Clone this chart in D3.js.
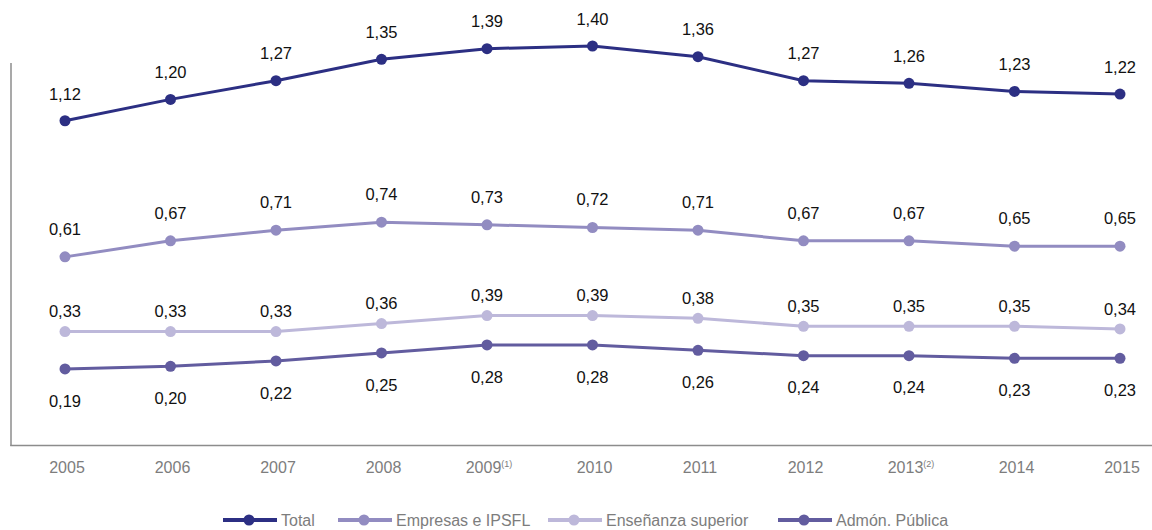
<!DOCTYPE html>
<html>
<head>
<meta charset="utf-8">
<script src="https://cdn.jsdelivr.net/npm/d3@7"></script>
<style>
  html, body { margin: 0; padding: 0; background: #fff; }
  svg { display: block; font-family: "Liberation Sans", Arial, Helvetica, sans-serif; }
</style>
</head>
<body>
<svg id="chart" width="1152" height="530"></svg>
<script>
// ---- Data ----
const years = [2005, 2006, 2007, 2008, 2009, 2010, 2011, 2012, 2013, 2014, 2015];
const yearNotes = ["", "", "", "", "(1)", "", "", "", "(2)", "", ""];
const seriesNames = ["Total", "Empresas e IPSFL", "Enseñanza superior", "Admón. Pública"];
const total      = [1.12, 1.20, 1.27, 1.35, 1.39, 1.40, 1.36, 1.27, 1.26, 1.23, 1.22];
const empresas   = [0.61, 0.67, 0.71, 0.74, 0.73, 0.72, 0.71, 0.67, 0.67, 0.65, 0.65];
const ensenanza  = [0.33, 0.33, 0.33, 0.36, 0.39, 0.39, 0.38, 0.35, 0.35, 0.35, 0.34];
const admon      = [0.19, 0.20, 0.22, 0.25, 0.28, 0.28, 0.26, 0.24, 0.24, 0.23, 0.23];

const seriesValues = [total, empresas, ensenanza, admon];
const colors = ["#2c2f83", "#928cc1", "#bdb8da", "#625c9f"];
const labelOffsets = [-27, -28, -20, 32]; // label placement relative to point (center)

// ---- Scales ----
const svg = d3.select("#chart");
const x = d3.scalePoint().domain(years).range([65, 1120]);
const y = d3.scaleLinear().domain([0, 1.4]).range([419.7, 46]);

// ---- Axes (left + bottom lines) ----
const axisColor = "#8c8c8c";
svg.append("line")
  .attr("x1", 11).attr("x2", 11).attr("y1", 63).attr("y2", 446)
  .attr("stroke", axisColor).attr("stroke-width", 1.5);
svg.append("line")
  .attr("x1", 10.25).attr("x2", 1152).attr("y1", 445.5).attr("y2", 445.5)
  .attr("stroke", axisColor).attr("stroke-width", 1.5);

// x tick labels
const xt = svg.append("g").selectAll("text").data(years).join("text")
  .attr("x", d => x(d) + 2)
  .attr("y", 473)
  .attr("text-anchor", "middle")
  .attr("font-size", 16)
  .attr("fill", "#7d7d7d");
xt.append("tspan").text(d => d);
xt.append("tspan")
  .text((d, i) => yearNotes[i])
  .attr("font-size", 9)
  .attr("dy", -6);

// ---- Lines, points, labels ----
const line = d3.line().x((d, i) => x(years[i])).y(d => y(d));

seriesValues.forEach((vals, si) => {
  const g = svg.append("g");
  g.append("path")
    .datum(vals)
    .attr("d", line)
    .attr("fill", "none")
    .attr("stroke", colors[si])
    .attr("stroke-width", 3);
  g.selectAll("circle").data(vals).join("circle")
    .attr("cx", (d, i) => x(years[i]))
    .attr("cy", d => y(d))
    .attr("r", 5.5)
    .attr("fill", colors[si]);
  g.selectAll("text").data(vals).join("text")
    .attr("x", (d, i) => x(years[i]))
    .attr("y", d => y(d) + labelOffsets[si])
    .attr("dy", "0.35em")
    .attr("text-anchor", "middle")
    .attr("font-size", 16.5)
    .attr("fill", "#111")
    .text(d => d3.format(".2f")(d).replace(".", ","));
});

// ---- Legend ----
const legendX = [223, 338, 548, 778];
const legend = svg.append("g");
seriesNames.forEach((name, i) => {
  const lg = legend.append("g").attr("transform", `translate(${legendX[i]},520)`);
  lg.append("line").attr("x1", 0).attr("x2", 54).attr("y1", 0).attr("y2", 0)
    .attr("stroke", colors[i]).attr("stroke-width", 4);
  lg.append("circle").attr("cx", 26).attr("cy", 0).attr("r", 5.5).attr("fill", colors[i]);
  lg.append("text").attr("x", 58).attr("y", 5.5)
    .attr("font-size", 16).attr("fill", "#7d7d7d").text(name);
});
</script>
</body>
</html>
